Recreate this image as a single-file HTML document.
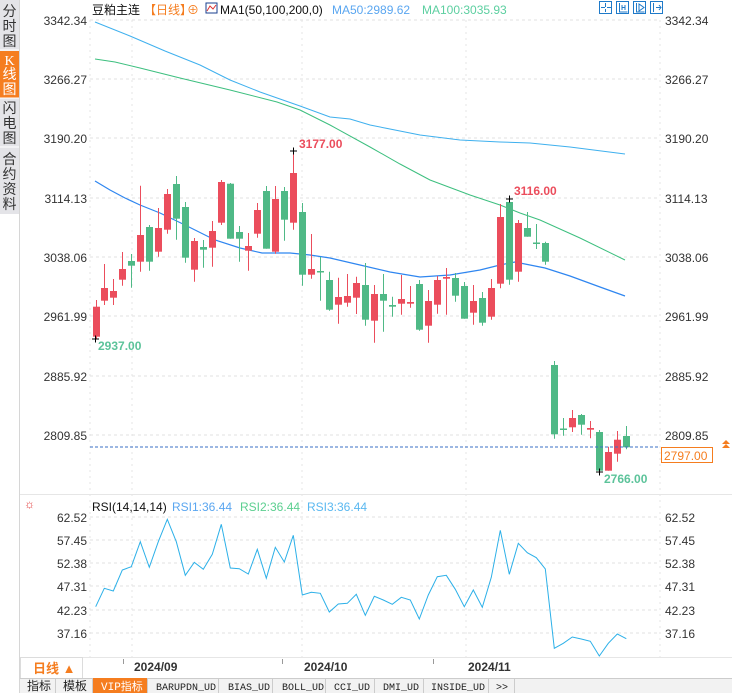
<!DOCTYPE html>
<html><head><meta charset="utf-8"><style>
body{margin:0;width:732px;height:693px;overflow:hidden;background:#fff;font-family:"Liberation Sans","Noto Sans CJK SC",sans-serif;}
</style></head><body>
<svg id="s" width="732" height="693" xmlns="http://www.w3.org/2000/svg" style="position:absolute;left:0;top:0;font-family:'Liberation Sans','Noto Sans CJK SC',sans-serif">
<rect x="0" y="0" width="19" height="214" fill="#e4e4e8"/>
<rect x="0" y="51" width="19" height="47" fill="#f57d1f"/>
<line x1="0" y1="50" x2="19" y2="50" stroke="#fff"/>
<line x1="0" y1="98" x2="19" y2="98" stroke="#fff"/>
<line x1="0" y1="147" x2="19" y2="147" stroke="#fff"/>
<line x1="19.5" y1="0" x2="19.5" y2="693" stroke="#d6d6d6"/>
<g font-size="14" fill="#333" text-anchor="middle">
<text x="9.5" y="16">分</text><text x="9.5" y="31">时</text><text x="9.5" y="46">图</text>
<text x="9.5" y="65" fill="#fff" font-family="Liberation Serif">K</text><text x="9.5" y="79" fill="#fff">线</text><text x="9.5" y="94" fill="#fff">图</text>
<text x="9.5" y="113">闪</text><text x="9.5" y="128">电</text><text x="9.5" y="143">图</text>
<text x="9.5" y="164">合</text><text x="9.5" y="179">约</text><text x="9.5" y="194">资</text><text x="9.5" y="209">料</text>
</g>
<g stroke="#e2e2e2" stroke-dasharray="3,3">
<line x1="90" y1="20" x2="660" y2="20"/><line x1="90" y1="79" x2="660" y2="79"/><line x1="90" y1="138" x2="660" y2="138"/><line x1="90" y1="198" x2="660" y2="198"/><line x1="90" y1="257" x2="660" y2="257"/><line x1="90" y1="316" x2="660" y2="316"/><line x1="90" y1="376" x2="660" y2="376"/><line x1="90" y1="435" x2="660" y2="435"/>
<line x1="90" y1="517" x2="660" y2="517"/><line x1="90" y1="540" x2="660" y2="540"/><line x1="90" y1="563" x2="660" y2="563"/><line x1="90" y1="586" x2="660" y2="586"/><line x1="90" y1="610" x2="660" y2="610"/><line x1="90" y1="633" x2="660" y2="633"/>
</g>
<g stroke="#e4e4e4" stroke-dasharray="2,4">
<line x1="132" y1="20" x2="132" y2="657"/><line x1="302" y1="20" x2="302" y2="657"/><line x1="466" y1="20" x2="466" y2="657"/>
<line x1="90" y1="20" x2="90" y2="657"/><line x1="660" y1="20" x2="660" y2="657"/>
</g>
<line x1="20" y1="494.5" x2="732" y2="494.5" stroke="#e6e6e6"/>
<line x1="20" y1="657.5" x2="732" y2="657.5" stroke="#e6e6e6"/>
<g font-size="12" fill="#333">
<g text-anchor="end">
<text x="87" y="25">3342.34</text><text x="87" y="84">3266.27</text><text x="87" y="143">3190.20</text><text x="87" y="203">3114.13</text><text x="87" y="262">3038.06</text><text x="87" y="321">2961.99</text><text x="87" y="381">2885.92</text><text x="87" y="440">2809.85</text>
<text x="87" y="522">62.52</text><text x="87" y="545">57.45</text><text x="87" y="568">52.38</text><text x="87" y="591">47.31</text><text x="87" y="615">42.23</text><text x="87" y="638">37.16</text>
</g>
<text x="665" y="25">3342.34</text><text x="665" y="84">3266.27</text><text x="665" y="143">3190.20</text><text x="665" y="203">3114.13</text><text x="665" y="262">3038.06</text><text x="665" y="321">2961.99</text><text x="665" y="381">2885.92</text><text x="665" y="440">2809.85</text>
<text x="665" y="522">62.52</text><text x="665" y="545">57.45</text><text x="665" y="568">52.38</text><text x="665" y="591">47.31</text><text x="665" y="615">42.23</text><text x="665" y="638">37.16</text>
</g>
<text x="92" y="14" font-size="12" fill="#111">豆粕主连</text>
<text x="144" y="14" font-size="12" fill="#f57d1f">【日线】</text>
<text x="187" y="14" font-size="12" fill="#f57d1f">⊕</text>
<rect x="206" y="3" width="11" height="10" fill="#fff" stroke="#1a3f8f"/>
<polyline points="207,11 210,6 213,9 216,5" fill="none" stroke="#d33"/>
<text x="220" y="14" font-size="12" fill="#111">MA1(50,100,200,0)</text>
<text x="332" y="14" font-size="12" fill="#5aa6f0">MA50:2989.62</text>
<text x="422" y="14" font-size="12" fill="#5ccfa0">MA100:3035.93</text>
<g fill="none" stroke="#1f7ac9" stroke-width="1">
<rect x="599.5" y="1.5" width="12" height="12"/><rect x="616.5" y="1.5" width="12" height="12"/><rect x="633.5" y="1.5" width="12" height="12"/><rect x="650.5" y="1.5" width="12" height="12"/>
<path d="M605.5 3v4M605.5 9v3M601 7.5h4M607 7.5h4M619.5 3v9h8M622 5v5M625 5v5M622 7.5h3M636.5 3v9h8M639 4v7l5-3.5zM653.5 3v9M656 7.5h5M659 5l2 2.5-2 2.5"/>
</g>
<polyline fill="none" stroke="#3fb0ee" stroke-width="1" points="95,22 130,36 165,51 200,65 230,80 260,92 300,106 330,117 350,119 370,125 420,135 460,140 500,142 530,143 570,147 625,154"/>
<polyline fill="none" stroke="#3dbf7f" stroke-width="1" points="95,59 115,62 140,68 180,78 230,90 277,102 300,110 330,125 370,147 400,164 430,180 470,195 500,205 520,213 540,220 580,238 625,260"/>
<polyline fill="none" stroke="#2f86f0" stroke-width="1.2" points="95,181 110,190 125,198 140,205 160,213 185,225 215,240 240,248 262,253 290,253 310,255 330,258 360,265 390,272 420,277 450,275 480,270 500,265 515,262 530,265 545,268 570,276 600,287 625,296"/>
<g id="candles"></g>
<line x1="90" y1="447" x2="660" y2="447" stroke="#3a6fc4" stroke-dasharray="3,2"/>
<rect x="661.5" y="447.5" width="51" height="15" fill="#fff" stroke="#f57d1f"/>
<text x="664" y="460" font-size="12" fill="#f57d1f">2797.00</text>
<path d="M722 444l4-4 4 4zM722 448l4-4 4 4" fill="#f57d1f"/>
<g stroke="#000" stroke-width="1"><path d="M92 339h7M95.5 335.5v7M290 151h7M293.5 147.5v7M506 199h7M509.5 195.5v7M596 472h7M599.5 468.5v7"/></g>
<text x="98" y="350" font-size="12" font-weight="bold" fill="#5cc39a">2937.00</text>
<text x="299" y="148" font-size="12" font-weight="bold" fill="#eb4d5c">3177.00</text>
<text x="514" y="195" font-size="12" font-weight="bold" fill="#eb4d5c">3116.00</text>
<text x="604" y="483" font-size="12" font-weight="bold" fill="#5cc39a">2766.00</text>
<text x="24" y="508" font-size="12" fill="#e03030">☼</text>
<text x="92" y="511" font-size="12" fill="#111">RSI(14,14,14)</text>
<text x="172" y="511" font-size="12" fill="#5aa6f0">RSI1:36.44</text>
<text x="240" y="511" font-size="12" fill="#5ccf90">RSI2:36.44</text>
<text x="307" y="511" font-size="12" fill="#5ab8f0">RSI3:36.44</text>
<polyline fill="none" stroke="#2cb0e8" stroke-width="1" points="95.7,606.7 104.3,588.3 113.3,591 122.3,570 131.3,566.7 140.3,541.7 149.3,567.3 158.3,541.7 167.3,519.3 176.3,541.7 185.3,575.3 194.3,562.3 203.3,569.3 212.3,554.3 221.3,524.3 230.3,568 239.3,568.7 248.3,574 257.3,549.3 266.3,578.3 275.3,547.3 284.3,562 293.3,535.3 302.3,595 311.3,592.3 320.3,593.3 329.3,612 338.3,604 347.3,603.3 356.3,594.3 365.3,615.3 374.3,596.3 383.3,600 392.3,604.3 401.3,597.3 410.3,600 419.3,619 428.3,595 437.3,576.7 446.3,575.3 455.3,589.3 464.3,606.7 473.3,590 482.3,607.3 491.3,577.3 500.3,530.3 509.3,574.3 518.3,543.3 527.3,552.7 536.3,557.7 545.3,569 554.3,648.3 563.3,643.3 572.3,637 581.3,639 590.3,641.3 599.3,656 608.3,643.3 617.3,634 626.3,638.7"/>
<rect x="20.5" y="657.5" width="62" height="21" fill="#fff" stroke="#dcdcdc"/>
<text x="33" y="673" font-size="13" font-weight="bold" fill="#f57d1f">日线 ▲</text>
<g font-size="12" font-weight="bold" fill="#333"><text x="134" y="671">2024/09</text><text x="304" y="671">2024/10</text><text x="468" y="671">2024/11</text></g>
<line x1="123.5" y1="659" x2="123.5" y2="664" stroke="#999"/><line x1="282.5" y1="659" x2="282.5" y2="664" stroke="#999"/><line x1="433.5" y1="659" x2="433.5" y2="664" stroke="#999"/>
<rect x="20" y="678" width="712" height="15" fill="#f2f2f2"/>
<line x1="20" y1="678.5" x2="732" y2="678.5" stroke="#ccc"/>
<rect x="93" y="678" width="54" height="15" fill="#f57d1f"/>
<g font-size="12" fill="#222">
<text x="27" y="690">指标</text><text x="63" y="690">模板</text><text x="101" y="690" fill="#fff" font-size="11" font-family="Liberation Mono,'Noto Sans CJK SC',monospace">VIP指标</text>
<g font-family="Liberation Mono,monospace" font-size="10"><text x="156" y="690">BARUPDN_UD</text><text x="228" y="690">BIAS_UD</text><text x="282" y="690">BOLL_UD</text><text x="334" y="690">CCI_UD</text><text x="383" y="690">DMI_UD</text><text x="431" y="690">INSIDE_UD</text><text x="496" y="690">&gt;&gt;</text></g>
</g>
<g stroke="#ccc"><line x1="55.5" y1="679" x2="55.5" y2="693"/><line x1="92.5" y1="679" x2="92.5" y2="693"/><line x1="147.5" y1="679" x2="147.5" y2="693"/><line x1="218.5" y1="679" x2="218.5" y2="693"/><line x1="272.5" y1="679" x2="272.5" y2="693"/><line x1="325.5" y1="679" x2="325.5" y2="693"/><line x1="374.5" y1="679" x2="374.5" y2="693"/><line x1="423.5" y1="679" x2="423.5" y2="693"/><line x1="488.5" y1="679" x2="488.5" y2="693"/><line x1="514.5" y1="679" x2="514.5" y2="693"/></g>
</svg>
<script>
var R="#eb4d5c",G="#4fb986";
var d=[[95.5,R,306.7,336.7,300,339],[104,R,288,300.7,264,305],[113.3,R,291,297.7,279,305],[122.3,R,269,279.7,252,285.7],[131.3,G,261,265.7,254,287.7],[140.3,R,235,261.7,185.7,271.7],[149.3,G,227,261.7,225,270.7],[158.3,R,228,251.7,208,256.7],[167.3,R,194,229.7,189,233.7],[176.3,G,184,218.7,176,239.7],[185.3,G,207,257.7,202,262.7],[194.3,R,241,269.7,238,281.7],[203.3,G,247,249.7,240,267.7],[212.3,R,231,247.7,221,266.7],[221.3,R,182,222.7,180,225],[230.3,G,183.7,238.7,183,238.7],[239.3,G,232,238.7,226,261.7],[248.3,R,246,250.7,233,270.7],[257.3,R,210,233.7,203,237.7],[266.3,G,191,248.7,186,248.7],[275.3,R,199,251.7,186,253.7],[284.3,G,191,219.7,187,240.7],[293.3,R,173,222.7,151,229.7],[302.3,G,212,274.7,203,285.7],[311.3,R,269,274.7,234,278.7],[320.3,G,271,272.5,257,300.7],[329.3,G,280,309.7,271.7,310.7],[338.3,R,297,304.7,277.7,323.7],[347.3,R,296,302.7,274,306.7],[356.3,R,283,297.7,276.7,314],[365.3,G,285,319.7,263,325.7],[374.3,R,294,320.7,285,342.7],[383.3,G,294,300.7,274,331.7],[392.3,G,305,306.7,296.7,316.7],[401.3,R,299,303.7,275,314.7],[410.3,R,302,303.7,286,307.7],[419.3,G,284,329.7,280,330.7],[428.3,R,301,325.7,290,342.7],[437.3,R,280,304.7,276,313.7],[446.3,R,277,278.7,268,314.7],[455.3,G,278,295.7,273,301.7],[464.3,G,286,318.7,282,318.7],[473.3,R,301,312.7,285,324.7],[482.3,G,298,322.7,292,325.7],[491.3,R,288,316.7,279,319.7],[500.3,R,217,283.7,204,288.3],[509.3,G,202,279.7,198,284.7],[518.3,R,223,271.7,220,281.7],[527.3,G,228,236.7,212,236.7],[536.3,G,242.5,244,224,249],[545.3,G,243,261.7,241.7,264.7],[554.3,G,365,434.3,361,438.7],[563.3,G,428.5,430,418,435.7],[572.3,R,418,427.3,410,432],[581.3,G,415,424.7,414,434.7],[590.3,R,428,429.7,421,438.3],[599.3,G,432,470.7,430,472.7],[608.3,R,452,470.7,446.7,470.7],[617.3,R,439.7,453.7,431,461.7],[626.3,G,436,447.3,426,449.3]];
var h="";d.forEach(function(c){var x=Math.round(c[0]);h+='<line x1="'+(x+0.5)+'" y1="'+c[4]+'" x2="'+(x+0.5)+'" y2="'+c[5]+'" stroke="'+c[1]+'"/>';h+='<rect x="'+(x-3)+'" y="'+c[2]+'" width="7" height="'+Math.max(1.5,c[3]-c[2])+'" fill="'+c[1]+'"/>';});
document.getElementById("candles").innerHTML=h;
</script>
</body></html>
